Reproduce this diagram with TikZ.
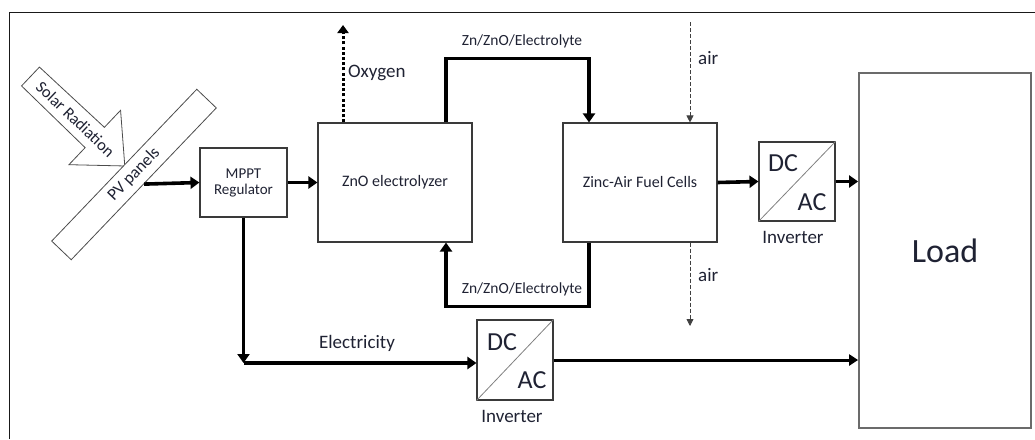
\documentclass[tikz,border=0pt]{standalone}
\usepackage{fontspec}
\setmainfont{Carlito}
\usetikzlibrary{arrows.meta}
\definecolor{txt}{HTML}{1F2233}
\definecolor{edge}{HTML}{3A3A3A}
\newcommand{\fsz}[1]{\fontsize{#1}{#1}\selectfont}
\begin{document}
\begin{tikzpicture}[x=1pt,y=-1pt,
  box/.style={draw=edge, line width=1.1pt, inner sep=0pt, text=txt, align=center},
  lbl/.style={text=txt, inner sep=0pt},
  bigarrow/.style={line width=3.6pt, -{Triangle[length=9pt,width=12pt]}},
  medarrow/.style={line width=3pt, -{Triangle[length=9pt,width=11pt]}},
  dotarrow/.style={line width=3pt, dash pattern=on 3pt off 2.2pt, -{Triangle[length=8pt,width=11pt]}},
  airarrow/.style={line width=0.8pt, draw=black!75, dash pattern=on 4pt off 2pt, -{Triangle[length=7pt,width=7pt]}},
  outline/.style={draw=black!70, line width=0.8pt, fill=white}]
\useasboundingbox (0,0) rectangle (1035,439);
% outer frame
\draw[line width=1.4pt, draw=black!90] (9.5,439) -- (9.5,12.5) -- (1035,12.5);

% solar radiation block arrow
\begin{scope}[shift={(30.5,76.5)}, rotate=-43.5]
  \draw[outline] (0,-13) -- (88.6,-14) -- (88.6,-37.5) -- (130,0) -- (88.6,37.5) -- (88.6,14) -- (0,13) -- cycle;
  \node[lbl, transform shape, font=\fsz{16.5}] (solar) at (62,0) {Solar Radiation};
\end{scope}
\node[outline, rotate=46.3, minimum width=210pt, minimum height=27pt, inner sep=0pt, text=txt, font=\fsz{17}] (pv) at (134,174.5) {PV panels};

% boxes
\node[box, minimum width=87pt, minimum height=69pt, font=\fsz{15}] (mppt) at (243.5,182.5) {MPPT\\[1pt]Regulator};
\node[box, minimum width=154pt, minimum height=119pt, font=\fsz{16}] (zno) at (395,182.5) {ZnO electrolyzer};
\node[box, minimum width=154pt, minimum height=119pt, font=\fsz{16}] (fc) at (640,182.5) {Zinc-Air Fuel Cells};
\node[box, minimum width=76pt, minimum height=79pt] (inv1) at (797,181.5) {};
\node[box, minimum width=76pt, minimum height=80pt] (inv2) at (515,360) {};
\node[box, draw=black!58, line width=1.8pt, minimum width=172pt, minimum height=355pt, font=\fsz{34}] (load) at (945,250.5) {Load};

% inverter internals
\draw[black!50, line width=0.8pt] (inv1.south west) -- (inv1.north east);
\draw[black!50, line width=0.8pt] (inv2.south west) -- (inv2.north east);
\node[lbl, font=\fsz{26}] (dc1) at ([shift={(-14,-18.5)}]inv1.center) {DC};
\node[lbl, font=\fsz{26}] (ac1) at ([shift={(15,20.5)}]inv1.center) {AC};
\node[lbl, font=\fsz{26}] (dc2) at ([shift={(-13,-18)}]inv2.center) {DC};
\node[lbl, font=\fsz{26}] (ac2) at ([shift={(17,20)}]inv2.center) {AC};
\node[lbl, font=\fsz{19}] (invl1) at (793,237) {Inverter};
\node[lbl, font=\fsz{19}] (invl2) at (512,416) {Inverter};

% coordinates
\coordinate (o2end) at (343,25);
\coordinate (airin) at (690,22);
\coordinate (airout) at (690,326);
\coordinate (elec) at (243.5,363);

% connectors
\draw[bigarrow] (pv.south) -- (mppt.west);
\draw[bigarrow] (mppt.east) -- (zno.west);
\draw[bigarrow] ([xshift=51pt]zno.north) -- ++(0,-64) -| ([xshift=-51pt]fc.north);
\draw[bigarrow] ([xshift=-51pt]fc.south) -- ++(0,64) -| ([xshift=51pt]zno.south);
\draw[dotarrow] (zno.north -| o2end) -- (o2end);
\draw[airarrow] (airin) -- (fc.north -| airin);
\draw[airarrow] (fc.south -| airout) -- (airout);
\draw[bigarrow] (fc.east) -- (inv1.west);
\draw[bigarrow] (inv1.east) -- (inv1.east -| load.west);
\draw[bigarrow] (mppt.south) -- (elec);
\draw[bigarrow] (elec) -- (elec -| inv2.west);
\draw[medarrow] (inv2.east) -- (inv2.east -| load.west);

% labels
\node[lbl, font=\fsz{15.5}] (zl1) at (522,41) {Zn/ZnO/Electrolyte};
\node[lbl, font=\fsz{15.5}] (zl2) at (522,289) {Zn/ZnO/Electrolyte};
\node[lbl, anchor=west, font=\fsz{19}] (oxl) at (348,73) {Oxygen};
\node[lbl, anchor=west, font=\fsz{19}] (air1) at (698,58) {air};
\node[lbl, anchor=west, font=\fsz{19}] (air2) at (698,275) {air};
\node[lbl, font=\fsz{19}] (el) at (357,343) {Electricity};
\end{tikzpicture}
\end{document}
